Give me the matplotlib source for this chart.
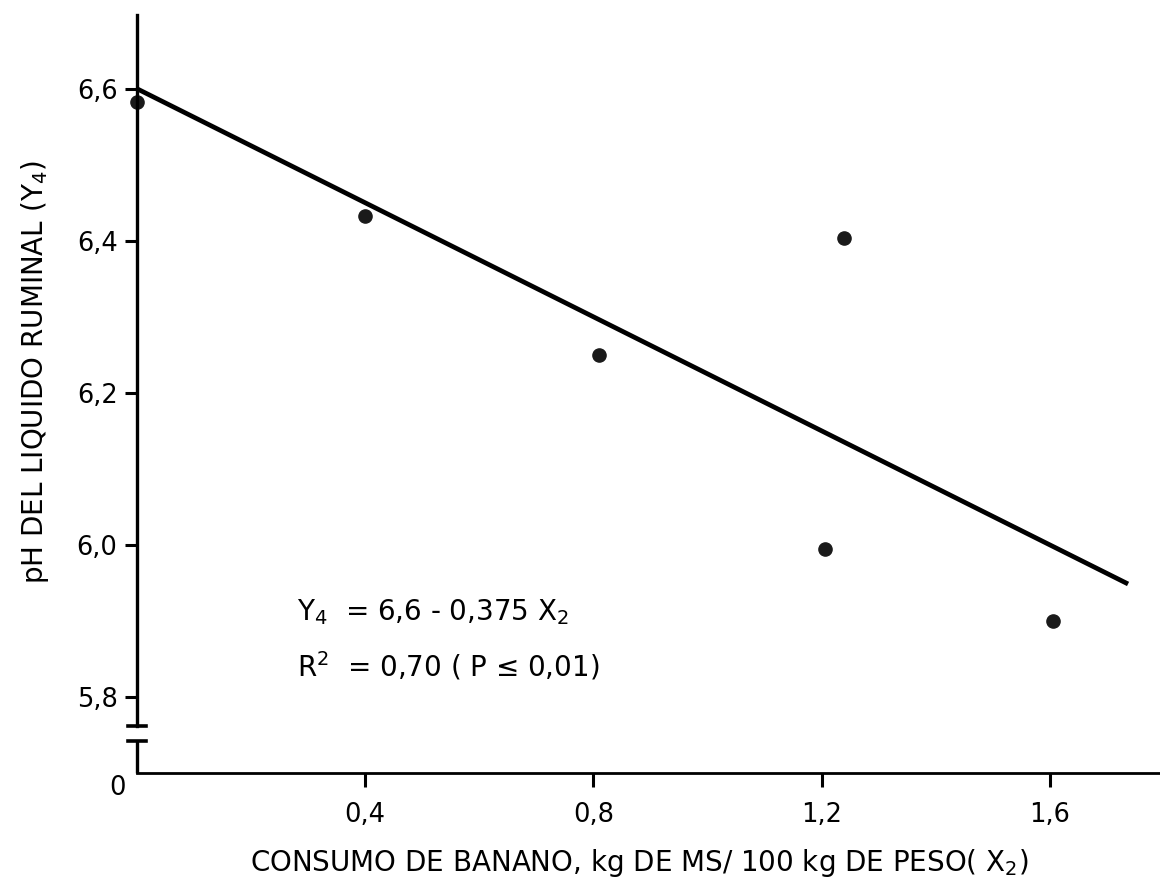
import matplotlib
matplotlib.use("Agg")
import matplotlib.pyplot as plt
import numpy as np

# datos
consumo = [0.0, 0.40, 0.81, 1.205, 1.24, 1.605]      # X2, kg MS/100 kg peso
ph = [6.583, 6.433, 6.25, 5.995, 6.404, 5.90]         # Y4
intercepto = 6.6
pendiente = -0.375
x_recta = [0.0, 1.737]

yticks = [5.8, 6.0, 6.2, 6.4, 6.6]
ytick_labels = ["5,8", "6,0", "6,2", "6,4", "6,6"]
xticks = [0.4, 0.8, 1.2, 1.6]
xtick_labels = ["0,4", "0,8", "1,2", "1,6"]

plt.rcParams['font.family'] = ['DejaVu Sans']
plt.rcParams['mathtext.default'] = 'regular'

fig = plt.figure(figsize=(11.6, 8.77), dpi=100)
ax = fig.add_axes([0.1181, 0.1186, 0.8819, 0.8643])

ax.set_xlim(0, 1.793)
ax.set_ylim(5.7, 6.697)

# recta de regresion
y_recta = [intercepto + pendiente * x for x in x_recta]
ax.plot(x_recta, y_recta, color='black', lw=3.4, solid_capstyle='butt')
ax.plot(consumo, ph, 'o', color='#1a1a1a', markersize=9.5, clip_on=False)

# ejes
for s in ['top', 'right']:
    ax.spines[s].set_visible(False)
ax.spines['left'].set_linewidth(2.4)
ax.spines['bottom'].set_linewidth(2.0)
ax.spines['left'].set_bounds(5.762, 6.697)

# corte del eje y
ax.plot([0, 0], [5.7, 5.742], color='black', lw=2.4, clip_on=False, solid_capstyle='butt')
ax.plot([-0.016, 0.016], [5.762, 5.762], color='black', lw=2.6, clip_on=False)
ax.plot([-0.016, 0.016], [5.742, 5.742], color='black', lw=2.6, clip_on=False)

ax.set_yticks(yticks)
ax.set_yticklabels(ytick_labels)
ax.set_xticks(xticks)
ax.set_xticklabels(xtick_labels)
ax.tick_params(axis='y', direction='out', length=9, width=2.2, pad=5, labelsize=18.5)
ax.tick_params(axis='x', direction='out', length=10, width=2.2, pad=11, labelsize=18.5)

ax.text(-0.034, 5.68, "0", ha='center', va='center', fontsize=18.5)

ax.set_xlabel("CONSUMO DE BANANO, kg DE MS/ 100 kg DE PESO( X$_2$)", fontsize=20)
ax.xaxis.set_label_coords((639 - 137) / 1023, (773 - 863) / 758)
ax.xaxis.label.set_va('center')
ax.set_ylabel("pH DEL LIQUIDO RUMINAL (Y$_4$)", fontsize=20)
ax.yaxis.set_label_coords((35 - 137) / 1023, (773 - 372) / 758)
ax.yaxis.label.set_va('center')

ax.text(0.28, 5.911, "Y$_4$  = 6,6 - 0,375 X$_2$", fontsize=20, ha='left', va='center')
ax.text(0.28, 5.841, "R$^2$  = 0,70 ( P ≤ 0,01)", fontsize=20, ha='left', va='center')

fig.savefig("out.png", dpi=100)
